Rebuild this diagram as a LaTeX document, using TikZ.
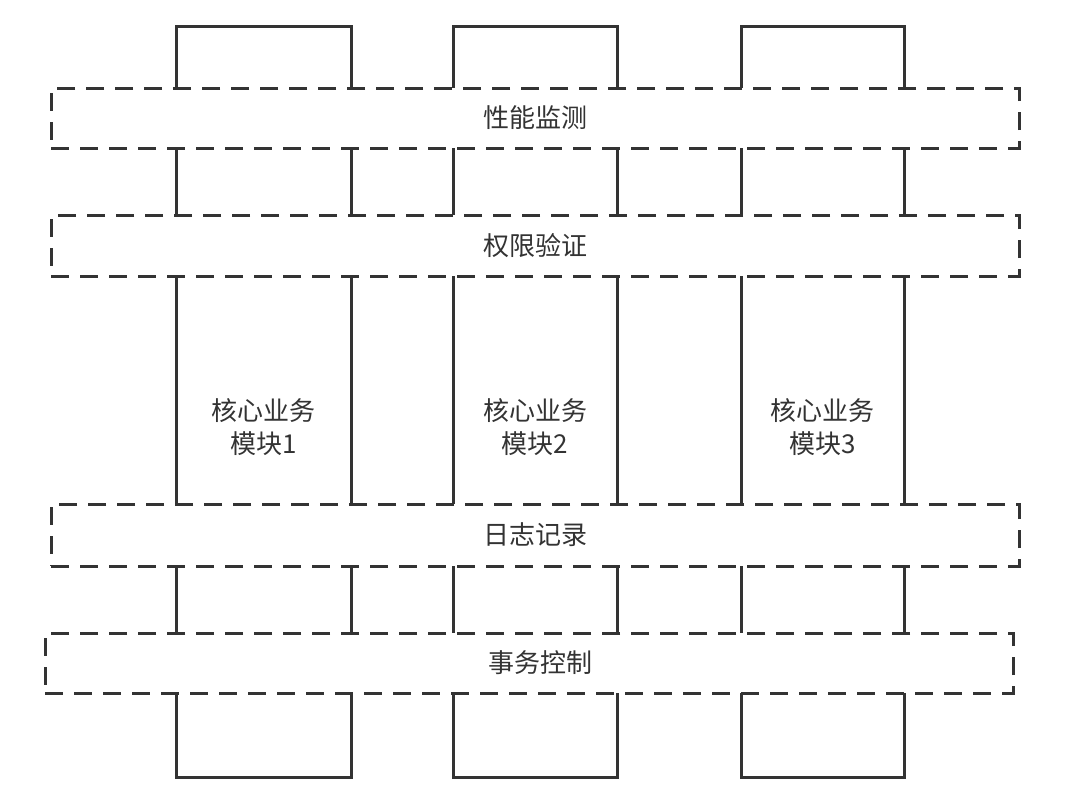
\documentclass[tikz,border=0pt]{standalone}
\usepackage{fontspec}
\setmainfont{Noto Sans CJK SC}
\usetikzlibrary{positioning}
\definecolor{inkgray}{HTML}{333333}

\begin{document}
\begin{tikzpicture}[
    x=1pt,y=1pt,
    module/.style={draw=inkgray,line width=3pt,inner sep=0pt,outer sep=0pt,minimum height=751pt},
    band/.style={draw=inkgray,fill=white,line width=3pt,dash pattern=on 18pt off 11pt,
        inner sep=0pt,outer sep=0pt,minimum width=968pt,text=inkgray,font=\fontsize{26}{33}\selectfont},
    caption/.style={align=center,text=inkgray,font=\fontsize{26}{33}\selectfont}
]
    \useasboundingbox (0,0) rectangle (1080,-811);

    % core modules behind the aspect bands
    \node[module,minimum width=175pt] (mod1) at (263.5,-401.5) {};
    \node[module,minimum width=164pt] (mod2) at (535,-401.5) {};
    \node[module,minimum width=163pt] (mod3) at (822.5,-401.5) {};

    \node[caption] (txt1) at (263.5,-427) {核心业务\\模块1};
    \node[caption] (txt2) at (535,-427) {核心业务\\模块2};
    \node[caption] (txt3) at (822.5,-427) {核心业务\\模块3};

    % aspect bands
    \node[band,minimum height=60pt] (perf) at (535,-118) {性能监测};
    \node[band,minimum height=61pt] (auth) at (535,-245.5) {权限验证};
    \node[band,minimum height=62pt] (log) at (535,-535) {日志记录};
    \node[band,minimum height=60pt] (trans) at (529,-663) {\hspace*{22pt}事务控制};
\end{tikzpicture}
\end{document}
